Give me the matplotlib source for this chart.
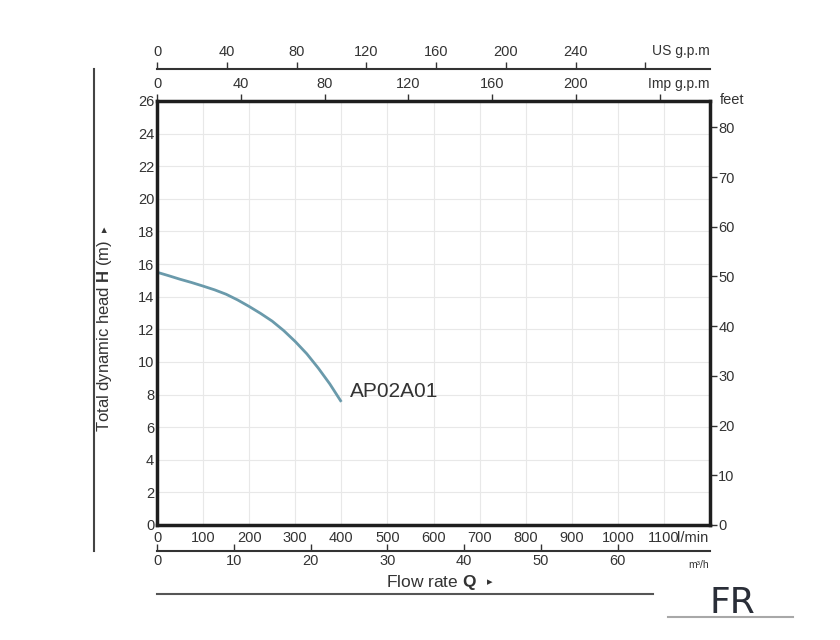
import matplotlib
matplotlib.use('Agg')
import matplotlib.pyplot as plt
from matplotlib.lines import Line2D

plt.rcParams['font.family'] = ['Liberation Sans', 'DejaVu Sans']
plt.rcParams['mathtext.fontset'] = 'custom'
plt.rcParams['mathtext.rm'] = 'Liberation Sans'
plt.rcParams['mathtext.bf'] = 'Liberation Sans:bold'

# pump curve (l/min, m)
flow_lpm = [0, 25, 50, 75, 100, 125, 150, 175, 200, 225, 250, 275, 300, 325, 350, 375, 400]
head_m = [15.5, 15.29, 15.07, 14.87, 14.65, 14.42, 14.15, 13.8, 13.4, 12.97, 12.5, 11.92,
          11.25, 10.5, 9.62, 8.65, 7.55]
model = 'AP02A01'

lpm_ticks = list(range(0, 1200, 100))
lpm_labels = [str(v) for v in lpm_ticks]
head_ticks = list(range(0, 27, 2))
feet_ticks = list(range(0, 90, 10))
m3h_ticks = list(range(0, 70, 10))
us_ticks = list(range(0, 320, 40))
us_labels = [str(v) for v in us_ticks[:-1]] + ['']
imp_ticks = list(range(0, 280, 40))
imp_labels = [str(v) for v in imp_ticks[:-1]] + ['']

W, H = 840, 640
txt = '#333333'
fs = 10.5

fig = plt.figure(figsize=(8.4, 6.4), dpi=100)
ax = fig.add_axes([157 / W, 1 - 525 / H, (710 - 157) / W, (525 - 101) / H])
ax.set_xlim(0, 1200)
ax.set_ylim(0, 26)
ax.set_xticks(lpm_ticks, lpm_labels)
ax.set_yticks(head_ticks)
ax.set_xticks(list(range(0, 1300, 100)), minor=True)
ax.grid(True, which='both', color='#e8e8e8', lw=0.8)
ax.tick_params(axis='both', which='both', length=0, labelsize=fs, labelcolor=txt)
ax.tick_params(axis='x', pad=4)
ax.tick_params(axis='y', pad=2)
for s in ax.spines.values():
    s.set_linewidth(2.5)
    s.set_color('#1e1e1e')
fig.text(677 / W, 1 - 538 / H, 'l/min', fontsize=fs, color=txt, va='center', ha='left')

ax.plot(flow_lpm, head_m, color='#6a9aab', lw=2, solid_capstyle='butt')
ax.text(418, 8.2, model, fontsize=15, color=txt, va='center', ha='left')

# feet on right
fa = ax.secondary_yaxis('right', functions=(lambda m: m * 3.28084, lambda f: f / 3.28084))
fa.set_yticks(feet_ticks)
fa.tick_params(direction='out', length=5, width=1, color='#333', labelsize=fs, labelcolor=txt, pad=1)
fa.spines['right'].set_visible(False)
fig.text(720 / W, 1 - 100 / H, 'feet', fontsize=fs, color=txt, va='center', ha='left')

# Imp g.p.m on top spine
ia = ax.secondary_xaxis('top', functions=(lambda q: q / 4.54609, lambda g: g * 4.54609))
ia.set_xticks(imp_ticks, imp_labels)
ia.tick_params(direction='out', length=5, width=1, color='#333', labelsize=fs, labelcolor=txt, pad=2)
ia.spines['top'].set_visible(False)
fig.text(710 / W, 1 - 84 / H, 'Imp g.p.m', fontsize=10, color=txt, va='center', ha='right')

# US g.p.m line above
ua = ax.secondary_xaxis(1 + 32 / 424, functions=(lambda q: q / 3.78541, lambda g: g * 3.78541))
ua.set_xticks(us_ticks, us_labels)
ua.tick_params(direction='out', length=5, width=1, color='#333', labelsize=fs, labelcolor=txt, pad=2)
ua.spines['top'].set_linewidth(1.5)
ua.spines['top'].set_color('#333')
fig.text(710 / W, 1 - 51 / H, 'US g.p.m', fontsize=10, color=txt, va='center', ha='right')

# m3/h line below
ma = ax.secondary_xaxis(-26 / 424, functions=(lambda q: q * 0.06, lambda c: c / 0.06))
ma.set_xticks(m3h_ticks)
ma.tick_params(direction='in', length=5, width=1, color='#333', labelsize=fs, labelcolor=txt, pad=2)
ma.spines['bottom'].set_linewidth(1.5)
ma.spines['bottom'].set_color('#333')
fig.text(699 / W, 1 - 565 / H, 'm³/h', fontsize=7.5, color=txt, va='center', ha='center')

# axis titles with small arrow marks
xt = fig.text(432 / W, 1 - 582 / H, r'Flow rate $\mathbf{Q}$', fontsize=12.5, color=txt,
              va='center', ha='center')
ax.annotate('▸', xy=(1, 0.5), xycoords=xt, xytext=(7, 0), textcoords='offset points',
            fontsize=8, family='DejaVu Sans', color=txt, va='center', ha='left')
yt = fig.text(105 / W, 1 - 336 / H, r'Total dynamic head $\mathbf{H}$ (m)', fontsize=12,
              color=txt, va='center', ha='center', rotation=90)
ax.annotate('▸', xy=(0.5, 1), xycoords=yt, xytext=(0, 6), textcoords='offset points',
            fontsize=8, family='DejaVu Sans', color=txt, va='bottom', ha='center', rotation=90)

# decorative rules
fig.add_artist(Line2D([94 / W, 94 / W], [1 - 69 / H, 1 - 551 / H], color='#444', lw=1.5))
fig.add_artist(Line2D([157 / W, 653 / W], [1 - 594 / H, 1 - 594 / H], color='#555', lw=1.5))

# logo
fig.text(732 / W, 1 - 603 / H, 'FR', fontsize=26, family='DejaVu Sans', color='#2a2e38',
         va='center', ha='center')
fig.add_artist(Line2D([668 / W, 793 / W], [1 - 617 / H, 1 - 617 / H], color='#a8a8a8', lw=1.5))

fig.savefig('out.png', dpi=100)
